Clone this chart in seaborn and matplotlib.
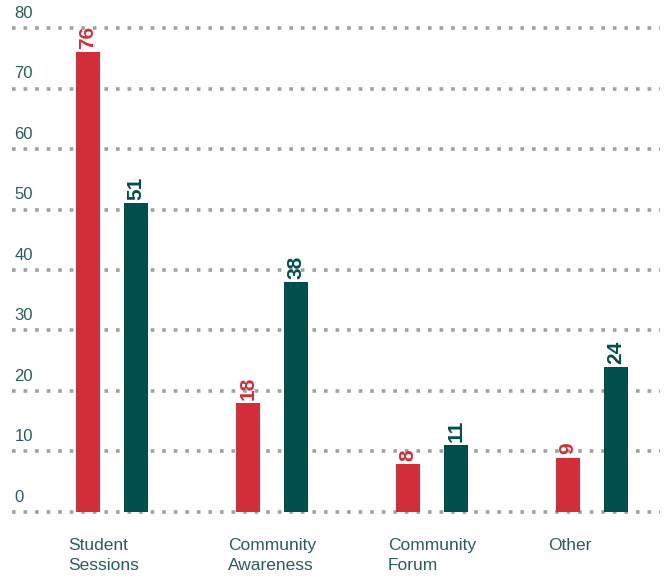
import matplotlib
matplotlib.use("Agg")
import matplotlib.pyplot as plt
import seaborn as sns
import pandas as pd

categories = ["Student\nSessions", "Community\nAwareness", "Community\nForum", "Other"]
series_names = ["Series A", "Series B"]
series_a = [76, 18, 8, 9]
series_b = [51, 38, 11, 24]
y_ticks = [0, 10, 20, 30, 40, 50, 60, 70, 80]

RED = "#d12e3a"
TEAL = "#004f4f"
TXT = "#2a5c60"
GRID = "#9aa4a4"

sns.set_style("white")
plt.rcParams["font.family"] = ["Liberation Sans", "DejaVu Sans"]

df = pd.DataFrame({
    "category": categories * 2,
    "series": [series_names[0]] * 4 + [series_names[1]] * 4,
    "value": series_a + series_b,
})

fig = plt.figure(figsize=(6.72, 5.80), dpi=100)
ax = fig.add_axes([12 / 672, 62 / 580, 648 / 672, 496 / 580])

sns.barplot(data=df, x="category", y="value", hue="series", order=categories,
            hue_order=series_names, palette=[RED, TEAL], width=0.6, gap=0.5,
            saturation=1, legend=False, ax=ax, linewidth=0)

ax.set_ylim(-1, 81)
ax.set_xlim(-0.625, 3.425)
for s in ax.spines.values():
    s.set_visible(False)
ax.set_xticks([])
ax.set_yticks([])
ax.set_xlabel("")
ax.set_ylabel("")

for v in y_ticks:
    ax.axhline(v, color=GRID, linestyle=(0, (1, 2.2)), linewidth=2.6, zorder=0)
    ax.text(0.004, v + 1.2, str(v), transform=ax.get_yaxis_transform(),
            ha="left", va="bottom", fontsize=12, color=TXT)

# value labels
for cont, color in zip(ax.containers, [RED, TEAL]):
    for bar in cont:
        h = bar.get_height()
        ax.text(bar.get_x() + bar.get_width() / 2, h + 0.5, f"{int(round(h))}",
                rotation=90, ha="center", va="bottom", fontsize=15,
                fontweight="bold", color=color,
                family=["Liberation Sans Narrow", "Liberation Sans", "DejaVu Sans"])

# category labels
for i, c in enumerate(categories):
    ax.text(i - 0.275, -0.040, c, transform=ax.get_xaxis_transform(),
            ha="left", va="top", fontsize=12.5, color=TXT, linespacing=1.4)

fig.savefig("out.png", dpi=100)
